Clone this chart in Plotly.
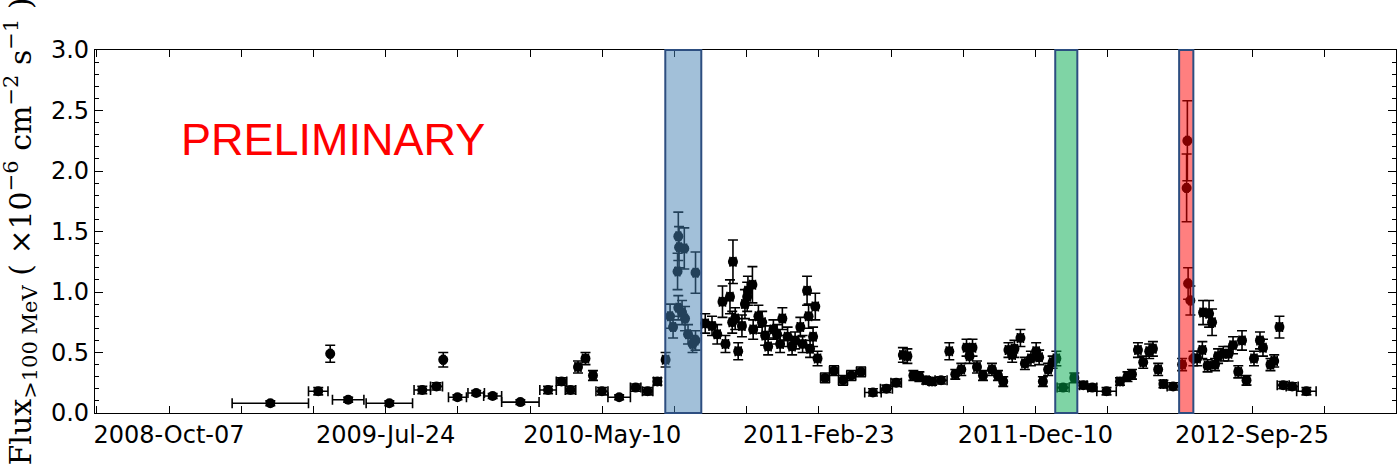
import plotly.graph_objects as go

# ---- data ----
# time of bin centre (MJD), flux (1e-6 ph cm^-2 s^-1), half bin width (days), flux error
mjd = [54881, 54945, 54961, 54985, 55040, 55084, 55103, 55112, 55131, 55156, 55178, 55215,
       55252, 55270, 55282, 55292, 55302, 55312, 55324, 55347, 55369, 55385, 55398, 55409,
       55415, 55419, 55425, 55426, 55427, 55426, 55431, 55434, 55435, 55439, 55445, 55449, 55449,
       55462, 55471, 55478, 55485, 55489, 55495, 55499, 55498, 55502, 55506, 55511, 55515, 55518,
       55519, 55525, 55526, 55533, 55538, 55542, 55546, 55553, 55558, 55562, 55565, 55572, 55578,
       55582, 55589, 55592, 55598, 55600, 55602, 55606, 55609, 55612, 55622, 55634, 55646, 55657,
       55670, 55686, 55704, 55717, 55726, 55732, 55740, 55748, 55757, 55765, 55777, 55788, 55796,
       55804, 55811, 55815, 55819, 55825, 55833, 55845, 55853, 55860, 55867, 55872, 55875, 55883,
       55889, 55897, 55904, 55908, 55913, 55920, 55926, 55931, 55940, 55955, 55967, 55979, 55998,
       56016, 56026, 56032, 56040, 56047, 56055, 56060, 56067, 56074, 56087, 56099, 56105, 56106,
       56107, 56110, 56114, 56119, 56126, 56127, 56133, 56135, 56139, 56143, 56147, 56154, 56161,
       56167, 56174, 56179, 56185, 56195, 56203, 56207, 56217, 56222, 56229, 56234, 56246, 56265]
flux = [0.08, 0.18, 0.49, 0.11, 0.08, 0.19, 0.22, 0.44, 0.13, 0.165, 0.14, 0.09,
        0.19, 0.26, 0.19, 0.38, 0.45, 0.31, 0.18, 0.13, 0.21, 0.18, 0.26, 0.44,
        0.80, 0.71, 1.17, 1.46, 1.37, 0.87, 0.83, 1.36, 0.78, 0.65, 0.57, 1.16, 0.60,
        0.74, 0.72, 0.65, 0.92, 0.57, 0.96, 1.25, 0.75, 0.78, 0.51, 0.72, 0.90, 0.96,
        1.01, 1.06, 0.69, 0.80, 0.75, 0.64, 0.55, 0.69, 0.65, 0.57, 0.78, 0.63, 0.55,
        0.60, 0.71, 0.57, 1.01, 0.80, 0.53, 0.63, 0.88, 0.45, 0.29, 0.35, 0.27, 0.31,
        0.34, 0.17, 0.20, 0.25, 0.48, 0.47, 0.31, 0.30, 0.27, 0.26, 0.27, 0.51, 0.32,
        0.36, 0.54, 0.47, 0.54, 0.38, 0.31, 0.36, 0.31, 0.26, 0.52, 0.48, 0.53, 0.62,
        0.41, 0.45, 0.51, 0.46, 0.26, 0.36, 0.42, 0.45, 0.21, 0.29, 0.23, 0.21, 0.18,
        0.26, 0.30, 0.32, 0.52, 0.42, 0.51, 0.53, 0.36, 0.24, 0.22, 0.40, 1.86, 2.25,
        1.07, 0.93, 0.45, 0.45, 0.52, 0.83, 0.39, 0.82, 0.75, 0.40, 0.47, 0.49, 0.49,
        0.56, 0.34, 0.60, 0.27, 0.45, 0.60, 0.54, 0.40, 0.43, 0.71, 0.23, 0.22, 0.18]
time_err = [51, 13, 2, 21, 31, 11, 8, 2, 12, 11, 12, 25,
            11, 7, 7, 4, 4, 4, 8, 15, 7, 7, 5, 4,
            3, 3, 3, 3, 3, 3, 3, 3, 3, 3, 3, 3, 3,
            4, 4, 4, 4, 4, 4, 4, 4, 4, 4, 4, 4, 4,
            4, 4, 4, 4, 4, 4, 4, 4, 4, 4, 4, 4, 4,
            4, 4, 4, 4, 4, 4, 4, 4, 4, 6, 6, 6, 6,
            6, 11, 8, 7, 4, 4, 4, 4, 4, 4, 8, 4, 4,
            4, 4, 4, 4, 4, 4, 4, 4, 4, 4, 4, 4, 4,
            4, 4, 4, 4, 4, 4, 4, 4, 8, 4, 5, 6, 13,
            4, 4, 4, 4, 4, 4, 4, 4, 4, 8, 4, 2, 2,
            2, 2, 2, 4, 4, 4, 4, 4, 4, 4, 4, 4, 4,
            4, 4, 4, 4, 4, 4, 4, 4, 4, 4, 8, 8, 13]
flux_err = [0.02, 0.03, 0.07, 0.02, 0.02, 0.03, 0.03, 0.06, 0.02, 0.02, 0.02, 0.02,
            0.03, 0.03, 0.03, 0.05, 0.05, 0.04, 0.03, 0.02, 0.03, 0.03, 0.03, 0.06,
            0.10, 0.09, 0.15, 0.20, 0.17, 0.10, 0.10, 0.17, 0.10, 0.08, 0.07, 0.17, 0.08,
            0.08, 0.08, 0.08, 0.13, 0.07, 0.14, 0.18, 0.09, 0.09, 0.07, 0.09, 0.12, 0.12,
            0.12, 0.15, 0.08, 0.09, 0.09, 0.08, 0.07, 0.08, 0.08, 0.07, 0.09, 0.08, 0.07,
            0.07, 0.08, 0.07, 0.12, 0.10, 0.07, 0.08, 0.11, 0.06, 0.04, 0.04, 0.04, 0.04,
            0.04, 0.03, 0.03, 0.03, 0.06, 0.06, 0.04, 0.04, 0.03, 0.03, 0.03, 0.07, 0.04,
            0.05, 0.07, 0.06, 0.07, 0.05, 0.04, 0.05, 0.04, 0.04, 0.06, 0.06, 0.07, 0.07,
            0.05, 0.06, 0.07, 0.06, 0.04, 0.05, 0.05, 0.06, 0.03, 0.04, 0.03, 0.03, 0.03,
            0.03, 0.04, 0.04, 0.06, 0.05, 0.06, 0.06, 0.05, 0.03, 0.03, 0.05, 0.28, 0.33,
            0.13, 0.12, 0.06, 0.06, 0.07, 0.10, 0.05, 0.11, 0.11, 0.05, 0.06, 0.06, 0.06,
            0.07, 0.05, 0.08, 0.04, 0.06, 0.07, 0.07, 0.05, 0.05, 0.09, 0.03, 0.03, 0.03]

# flare windows (MJD start, end) and fill colours
flare_start = [55408.6, 55929.5, 56095.0]
flare_end = [55456.7, 55959.0, 56114.0]
flare_color = ["rgba(70,130,180,0.5)", "rgba(0,170,75,0.5)", "rgba(255,0,0,0.5)"]

# x ticks: Fermi MET 2.45e8 s + n*2.5e7 s, expressed in MJD
tick_labels = ["2008-Oct-07", "2009-Jul-24", "2010-May-10", "2011-Feb-23", "2011-Dec-10", "2012-Sep-25"]
tick_mjd0 = 54745.65
tick_step = 289.35

major_vals = [tick_mjd0 + i * tick_step for i in range(len(tick_labels))]
minor_vals = [tick_mjd0 + k * tick_step / 3.0 for k in range(-1, 17) if k % 3 != 0]

fig = go.Figure()
fig.add_trace(go.Scatter(
    x=mjd, y=flux, mode="markers",
    marker=dict(color="black", size=10, line=dict(width=0)),
    error_y=dict(type="data", array=flux_err, visible=True, color="black", thickness=1.6, width=5),
    error_x=dict(type="data", array=time_err, visible=True, color="black", thickness=1.6, width=5),
    showlegend=False,
))

for s, e, c in zip(flare_start, flare_end, flare_color):
    fig.add_shape(type="rect", xref="x", yref="paper", x0=s, x1=e, y0=0, y1=1,
                  fillcolor=c, line=dict(color="#2d4e80", width=2), layer="above")

fig.add_annotation(text="PRELIMINARY", x=54965, y=2.26, xref="x", yref="y", showarrow=False,
                   font=dict(family="Liberation Sans, Arial", size=45, color="#ff0000"))

fig.add_annotation(
    text="Flux<sub>>100 MeV</sub> ( ×10<sup>−6</sup> cm<sup>−2</sup> s<sup>−1</sup> )",
    xref="paper", yref="paper", x=0, y=0.5, xanchor="center", yanchor="middle",
    xshift=-74, textangle=-90, showarrow=False,
    font=dict(family="DejaVu Serif", size=30, color="black"))

fig.update_layout(
    width=1398, height=466,
    margin=dict(l=95, r=2, t=50, b=53),
    paper_bgcolor="white", plot_bgcolor="white",
    font=dict(family="DejaVu Sans", size=24, color="black"),
)
fig.update_xaxes(
    range=[54646.8, 56384.7], tickmode="array", tickvals=major_vals, ticktext=tick_labels,
    ticks="inside", ticklen=7, tickwidth=1, tickcolor="black",
    minor=dict(tickmode="array", tickvals=minor_vals, ticks="inside", ticklen=7,
               tickwidth=1, tickcolor="black"),
    showline=True, linecolor="black", linewidth=1.2, mirror="ticks",
    showgrid=False, zeroline=False,
)
fig.update_yaxes(
    range=[0, 3.0], tickmode="array", tickvals=[0, 0.5, 1.0, 1.5, 2.0, 2.5, 3.0],
    tickformat=".1f",
    ticks="inside", ticklen=8, tickwidth=1, tickcolor="black",
    minor=dict(ticks="inside", ticklen=4, tickcolor="black", dtick=0.1, tick0=0),
    showline=True, linecolor="black", linewidth=1.2, mirror="ticks",
    showgrid=False, zeroline=False,
)

fig.write_html("out.html", config={"displayModeBar": False},
               post_script="document.body.style.margin='0px';")
